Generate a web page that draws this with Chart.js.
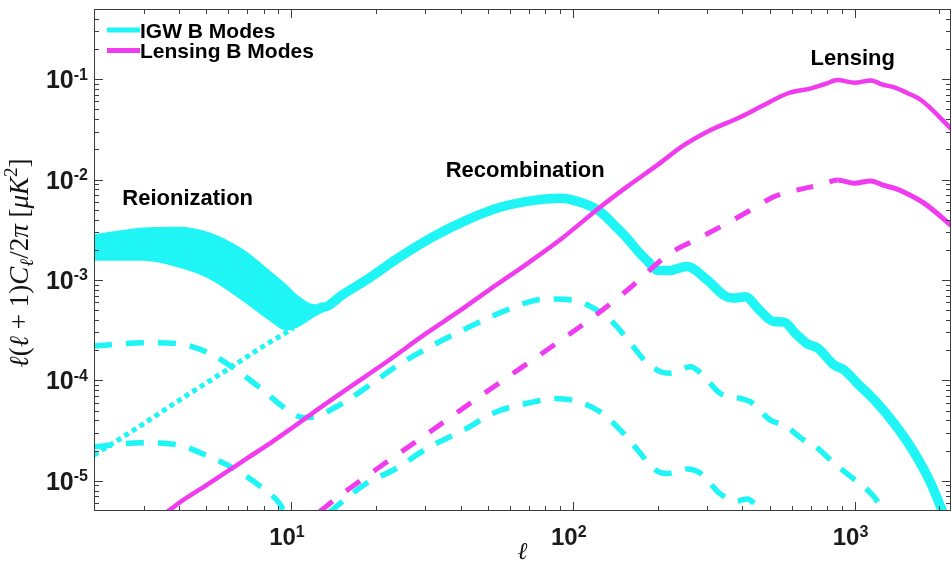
<!DOCTYPE html>
<html><head><meta charset="utf-8">
<script src="https://cdn.jsdelivr.net/npm/chart.js@4.4.1/dist/chart.umd.min.js"></script>
<style>html,body{margin:0;padding:0;background:#fff;}canvas{display:block;}</style>
</head><body>
<canvas id="c" width="952" height="572"></canvas>
<script>
// ---------- data ----------
const xMin = 2, xMax = 2200, yMin = 5e-6, yMax = 0.5;
const xTickExps = [1, 2, 3];
const yTickExps = [-5, -4, -3, -2, -1];

// Lensing B modes (solid)
const ellLens = [3.6, 4, 5, 6, 7, 8.5, 10, 13, 16, 22, 30, 40, 50, 70, 90, 125, 156, 200, 248, 300, 394, 464, 578, 700, 790, 871, 1000, 1143, 1262, 1384, 1545, 1722, 2230];
const lensSolid = [4.8e-6, 6.0e-6, 9.0e-6, 1.26e-5, 1.68e-5, 2.4e-5, 3.3e-5, 5.6e-5, 8.4e-5, 1.55e-4, 2.9e-4, 5.0e-4, 7.8e-4, 1.5e-3, 2.5e-3, 5.3e-3, 8.5e-3, 1.4e-2, 2.2e-2, 3.0e-2, 4.2e-2, 5.3e-2, 7.2e-2, 8.1e-2, 9.0e-2, 9.8e-2, 9.2e-2, 9.7e-2, 8.8e-2, 8.3e-2, 7.25e-2, 6.2e-2, 3.1e-2];

// Lensing B modes (dashed, lower amplitude)
const ellLensLow = [12.6, 15, 20.7, 30, 45, 65, 90, 118.6, 156, 222, 280, 353, 440, 518, 640, 759, 871, 1000, 1143, 1262, 1384, 1545, 1770, 2230];
const lensDashed = [4.9e-6, 7.2e-6, 1.38e-5, 2.85e-5, 6.4e-5, 1.31e-4, 2.47e-4, 4.3e-4, 7.9e-4, 1.85e-3, 2.6e-3, 3.67e-3, 5.2e-3, 6.76e-3, 8.0e-3, 8.85e-3, 9.9e-3, 9.2e-3, 9.7e-3, 8.8e-3, 8.2e-3, 7.2e-3, 5.8e-3, 3.4e-3];

// IGW B modes: reionization band (upper / lower edge)
const ellBand = [2, 3, 4, 5.14, 6.74, 8.4, 9.6, 10.5, 12, 13.7];
const bandUpper = [2.8e-3, 3.27e-3, 3.33e-3, 2.92e-3, 1.99e-3, 1.22e-3, 8.9e-4, 7.0e-4, 5.65e-4, 5.6e-4];
const bandLower = [1.58e-3, 1.58e-3, 1.35e-3, 1.04e-3, 6.3e-4, 4.0e-4, 3.2e-4, 3.4e-4, 4.3e-4, 5.2e-4];

// IGW B modes: main thick line
const ellIgw = [12.6, 13.5, 15, 18.5, 24.4, 32, 42, 55.3, 72.6, 90.3, 109, 125, 143.6, 156, 170, 184, 200, 220, 254, 300, 345, 370, 410, 460, 518, 562, 620, 681, 740, 847, 919, 1025, 1175, 1384, 1630, 1867, 2080];
const igwSolid = [5.3e-4, 5.5e-4, 6.9e-4, 1.0e-3, 1.7e-3, 2.7e-3, 3.95e-3, 5.3e-3, 6.2e-3, 6.5e-3, 5.8e-3, 4.8e-3, 3.3e-3, 2.6e-3, 1.95e-3, 1.55e-3, 1.25e-3, 1.24e-3, 1.36e-3, 1.0e-3, 7.0e-4, 6.6e-4, 6.8e-4, 5.0e-4, 3.85e-4, 3.8e-4, 2.9e-4, 2.3e-4, 2.1e-4, 1.42e-4, 1.27e-4, 9.3e-5, 6.4e-5, 3.7e-5, 1.9e-5, 9.4e-6, 4.5e-6];

// IGW dashed (upper)
const ellIgwD1 = [2, 2.98, 3.91, 5.14, 6.4, 7.95, 9.37, 11.04, 11.65, 14.5, 20.1, 23.1, 32, 42, 55.3, 72.6, 81, 100.8, 122, 140, 164, 184, 205, 222, 262, 285, 334, 394, 428, 504, 562, 662, 718, 824, 940, 1081, 1175, 1273];
const igwDashed1 = [2.2e-4, 2.37e-4, 2.33e-4, 1.86e-4, 1.27e-4, 8.0e-5, 5.46e-5, 4.28e-5, 4.28e-5, 5.46e-5, 1.0e-4, 1.32e-4, 2.25e-4, 3.3e-4, 4.72e-4, 6.22e-4, 6.46e-4, 6.3e-4, 5.0e-4, 3.7e-4, 2.16e-4, 1.48e-4, 1.22e-4, 1.18e-4, 1.37e-4, 1.18e-4, 7.4e-5, 6.6e-5, 6.1e-5, 4.0e-5, 3.6e-5, 2.54e-5, 2.26e-5, 1.6e-5, 1.18e-5, 8.7e-6, 6.9e-6, 4.9e-6];

// IGW dashed (lower); null = below the axis
const ellIgwD2 = [2, 2.98, 3.91, 5.14, 6.4, 7.95, 9.1, 9.5, 11.5, 13.6, 18.5, 23.1, 31.1, 41, 53.7, 72.6, 85.4, 100.8, 125, 147.6, 174, 194, 216, 254.6, 285, 334, 383, 416, 450, 470];
const igwDashed2 = [2.18e-5, 2.39e-5, 2.3e-5, 1.73e-5, 1.28e-5, 8.4e-6, 5.96e-6, 4.8e-6, null, 4.8e-6, 9.4e-6, 1.28e-5, 2.18e-5, 3.2e-5, 4.87e-5, 6.1e-5, 6.6e-5, 6.3e-5, 4.87e-5, 3.2e-5, 1.87e-5, 1.31e-5, 1.18e-5, 1.31e-5, 1.18e-5, 7.4e-6, 6.3e-6, 6.6e-6, 5.6e-6, 4.8e-6];

// IGW dotted (recombination-only continuation)
const ellDot = [2, 3, 4, 6, 8, 10.2];
const igwDotted = [1.8e-5, 3.7e-5, 6.3e-5, 1.3e-4, 2.2e-4, 3.3e-4];

const legendLabels = ['IGW B Modes', 'Lensing B Modes'];
const annotations = [
  {text: 'Reionization', l: 4.3, v: 5.6e-3},
  {text: 'Recombination', l: 67.8, v: 1.06e-2},
  {text: 'Lensing', l: 986, v: 0.139}
];

// ---------- styling ----------
const CYAN = '#1ff5f5', MAG = '#f03cee';
function pts(xs, ys) { return xs.map((x, i) => ({x: x, y: ys[i]})); }

const decor = {
  id: 'decor',
  afterDraw(chart) {
    const ctx = chart.ctx, a = chart.chartArea, sx = chart.scales.x, sy = chart.scales.y;
    ctx.save();
    // minor/major ticks pointing inward on all four sides
    ctx.strokeStyle = '#3c3c3c'; ctx.lineWidth = 1;
    ctx.beginPath();
    for (let e = 0; e <= 3; e++) for (let m = 1; m <= 9; m++) {
      const v = m * Math.pow(10, e); if (v < xMin || v > xMax) continue;
      const px = Math.round(sx.getPixelForValue(v)) + 0.5, L = m === 1 ? 9 : 5;
      ctx.moveTo(px, a.bottom); ctx.lineTo(px, a.bottom - L);
      ctx.moveTo(px, a.top); ctx.lineTo(px, a.top + L);
    }
    for (let e = -6; e <= 0; e++) for (let m = 1; m <= 9; m++) {
      const v = m * Math.pow(10, e); if (v < yMin || v > yMax) continue;
      const py = Math.round(sy.getPixelForValue(v)) + 0.5, L = m === 1 ? 9 : 5;
      ctx.moveTo(a.left, py); ctx.lineTo(a.left + L, py);
      ctx.moveTo(a.right, py); ctx.lineTo(a.right - L, py);
    }
    ctx.stroke();
    ctx.strokeRect(a.left + 0.5, a.top + 0.5, a.right - a.left - 1, a.bottom - a.top - 1);

    // tick labels 10^n
    const bigX = 'bold 24px "Liberation Sans", Arial, sans-serif';
    const bigY = 'bold 25px "Liberation Sans", Arial, sans-serif';
    const sup = 'bold 16px "Liberation Sans", Arial, sans-serif';
    ctx.fillStyle = '#1a1a1a'; ctx.textBaseline = 'alphabetic'; ctx.textAlign = 'left';
    xTickExps.forEach(e => {
      const px = sx.getPixelForValue(Math.pow(10, e));
      ctx.font = bigX; const w1 = ctx.measureText('10').width;
      ctx.font = sup; const w2 = ctx.measureText(String(e)).width;
      const x0 = px - 4 - (w1 + w2) / 2;
      ctx.font = bigX; ctx.fillText('10', x0, a.bottom + 34);
      ctx.font = sup; ctx.fillText(String(e), x0 + w1, a.bottom + 26);
    });
    yTickExps.forEach(e => {
      const py = sy.getPixelForValue(Math.pow(10, e));
      ctx.font = sup; const es = '-' + Math.abs(e); const w2 = ctx.measureText(es).width;
      ctx.font = bigY; const w1 = ctx.measureText('10').width;
      const xr = a.left - 6;
      ctx.font = bigY; ctx.fillText('10', xr - w2 - w1, py + 9);
      ctx.font = sup; ctx.fillText(es, xr - w2, py + 0.5);
    });

    // axis titles
    const serifI = 'italic 27px "Liberation Serif", "DejaVu Serif", serif';
    const serifN = '27px "Liberation Serif", "DejaVu Serif", serif';
    const serifIs = 'italic 19px "Liberation Serif", "DejaVu Serif", serif';
    const serifNs = '19px "Liberation Serif", "DejaVu Serif", serif';
    const parts = [
      {t: 'ℓ', f: serifI, dy: 0}, {t: '(', f: serifN, dy: 0}, {t: 'ℓ', f: serifI, dy: 0},
      {t: ' + 1)', f: serifN, dy: 0}, {t: 'C', f: serifI, dy: 0}, {t: 'ℓ', f: serifIs, dy: 5},
      {t: '/2', f: serifN, dy: 0}, {t: 'π', f: serifI, dy: 0}, {t: ' [', f: serifN, dy: 0},
      {t: 'μK', f: serifI, dy: 0}, {t: '2', f: serifNs, dy: -11}, {t: ']', f: serifN, dy: 0}
    ];
    let tot = 0; parts.forEach(p => { ctx.font = p.f; p.w = ctx.measureText(p.t).width; tot += p.w; });
    ctx.save();
    ctx.translate(28, 263);
    ctx.rotate(-Math.PI / 2);
    ctx.fillStyle = '#111';
    let xx = -tot / 2;
    parts.forEach(p => { ctx.font = p.f; ctx.fillText(p.t, xx, p.dy); xx += p.w; });
    ctx.restore();
    ctx.font = 'italic 24px "Liberation Serif", "DejaVu Serif", serif';
    ctx.textAlign = 'center'; ctx.fillStyle = '#111';
    ctx.fillText('ℓ', (a.left + a.right) / 2, a.bottom + 48);

    // annotations
    ctx.font = 'bold 22px "Liberation Sans", Arial, sans-serif';
    ctx.fillStyle = '#000'; ctx.textAlign = 'center';
    annotations.forEach(t => {
      ctx.fillText(t.text, sx.getPixelForValue(t.l), sy.getPixelForValue(t.v));
    });

    // legend
    const cols = [CYAN, MAG];
    ctx.font = 'bold 21px "Liberation Sans", Arial, sans-serif';
    ctx.textAlign = 'left';
    legendLabels.forEach((lab, i) => {
      const y = a.top + 21 + i * 20.5;
      ctx.strokeStyle = cols[i]; ctx.lineWidth = 5; ctx.lineCap = 'butt';
      ctx.beginPath(); ctx.moveTo(a.left + 13, y); ctx.lineTo(a.left + 46, y); ctx.stroke();
      ctx.fillStyle = '#000';
      ctx.fillText(lab, a.left + 46, y + 7.5);
    });
    ctx.restore();
  }
};

const common = {pointRadius: 0, fill: false, cubicInterpolationMode: 'monotone', clip: 0, spanGaps: false};

new Chart(document.getElementById('c'), {
  type: 'line',
  data: {
    datasets: [
      Object.assign({label: 'Lensing B Modes', data: pts(ellLens, lensSolid), borderColor: MAG, borderWidth: 4.5}, common),
      Object.assign({label: 'Lensing B Modes (low)', data: pts(ellLensLow, lensDashed), borderColor: MAG, borderWidth: 5, borderDash: [17, 17],
        segment: {borderDash: c => (c.p0.parsed.x >= 860 ? [] : undefined)}}, common),
      Object.assign({label: 'IGW B Modes', data: pts(ellIgw, igwSolid), borderColor: CYAN, borderWidth: 9.5}, common),
      Object.assign({}, common, {label: 'IGW band upper', data: pts(ellBand, bandUpper), borderColor: CYAN, borderWidth: 1.5, fill: '+1', backgroundColor: CYAN}),
      Object.assign({label: 'IGW band lower', data: pts(ellBand, bandLower), borderColor: CYAN, borderWidth: 1.5}, common),
      Object.assign({label: 'IGW dashed 1', data: pts(ellIgwD1, igwDashed1), borderColor: CYAN, borderWidth: 5.5, borderDash: [18, 14]}, common),
      Object.assign({label: 'IGW dashed 2', data: pts(ellIgwD2, igwDashed2), borderColor: CYAN, borderWidth: 5.5, borderDash: [18, 14]}, common),
      Object.assign({label: 'IGW dotted', data: pts(ellDot, igwDotted), borderColor: CYAN, borderWidth: 5, borderDash: [5, 4]}, common)
    ]
  },
  options: {
    responsive: false, animation: false, devicePixelRatio: 1,
    layout: {padding: {left: 94, right: 1, top: 9, bottom: 61}},
    plugins: {legend: {display: false}, tooltip: {enabled: false}, title: {display: false}},
    scales: {
      x: {type: 'logarithmic', min: xMin, max: xMax, bounds: 'data',
          ticks: {display: false}, grid: {display: false, drawTicks: false}, border: {display: false}, title: {display: false}},
      y: {type: 'logarithmic', min: yMin, max: yMax, bounds: 'data',
          ticks: {display: false}, grid: {display: false, drawTicks: false}, border: {display: false}, title: {display: false}}
    }
  },
  plugins: [decor]
});
</script>
</body></html>
